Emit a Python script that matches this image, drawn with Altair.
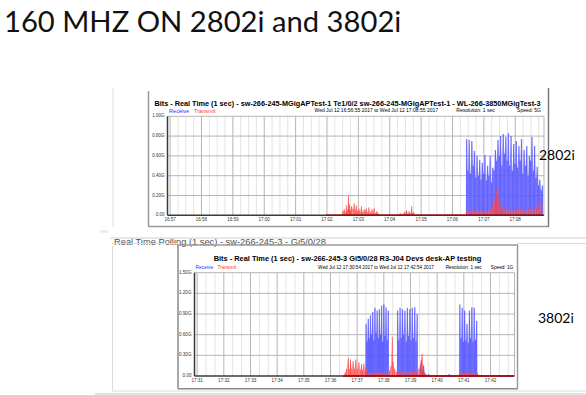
import altair as alt
import pandas as pd

# ---------------- data ----------------
SLIDE_TITLE = "160 MHZ ON 2802i and 3802i"
AP_LABELS = ["2802i", "3802i"]
HEADER_STRIP = "Real Time Polling (1 sec) - sw-266-245-3 - Gi5/0/28"
LEGEND = ["Receive", "Transmit"]

C1_TITLE = "Bits - Real Time (1 sec) - sw-266-245-MGigAPTest-1   Te1/0/2   sw-266-245-MGigAPTest-1 - WL-266-3850MGigTest-3"
C1_PERIOD = "Wed Jul 12 16:56:55 2017   to   Wed Jul 12 17:08:55 2017"
C1_RESOLUTION = "Resolution: 1 sec"
C1_SPEED = "Speed: 5G"
C1_RANGE = ["16:56:55", "17:08:55"]
C1_XTICKS = ["16:57", "16:58", "16:59", "17:00", "17:01", "17:02",
             "17:03", "17:04", "17:05", "17:06", "17:07", "17:08"]
C1_YTICKS = [0.0, 0.2, 0.4, 0.6, 0.8, 1.0]
C1_YLABELS = ["0.00", "0.20G", "0.40G", "0.60G", "0.80G", "1.00G"]
# receive bursts: (start, seconds between samples, values in Gbps)
C1_RX = [
    ("17:06:27", 2.5, [0.77, 0.45, 0.76, 0.42, 0.75, 0.50, 0.65, 0.38, 0.60, 0.40,
                       0.56, 0.36, 0.53, 0.42, 0.61, 0.35, 0.50, 0.40, 0.60, 0.33,
                       0.48, 0.45, 0.66, 0.55, 0.76, 0.60, 0.80, 0.50, 0.82, 0.62,
                       0.79, 0.55, 0.83, 0.50, 0.80, 0.45, 0.72, 0.52, 0.75, 0.48,
                       0.70, 0.55, 0.77, 0.42, 0.66, 0.50, 0.70, 0.40, 0.60, 0.55,
                       0.79, 0.45, 0.70, 0.38, 0.49, 0.30, 0.36, 0.25, 0.30]),
]
C1_TX = [
    ("17:01:58", 0.0), ("17:02:28", 0.0), ("17:02:30", 0.04), ("17:02:33", 0.06),
    ("17:02:36", 0.03), ("17:02:37", 0.10), ("17:02:39", 0.05), ("17:02:41", 0.20),
    ("17:02:42", 0.06), ("17:02:43", 0.11), ("17:02:45", 0.05), ("17:02:47", 0.09),
    ("17:02:50", 0.06), ("17:02:52", 0.12), ("17:02:54", 0.05), ("17:02:56", 0.10),
    ("17:02:58", 0.04), ("17:03:01", 0.07), ("17:03:03", 0.04), ("17:03:06", 0.09),
    ("17:03:08", 0.03), ("17:03:11", 0.06), ("17:03:13", 0.04), ("17:03:15", 0.07),
    ("17:03:18", 0.03), ("17:03:20", 0.08), ("17:03:23", 0.03), ("17:03:26", 0.06),
    ("17:03:28", 0.03), ("17:03:30", 0.07), ("17:03:33", 0.02), ("17:03:35", 0.04),
    ("17:03:38", 0.02), ("17:03:40", 0.0),
    ("17:04:16", 0.0), ("17:04:20", 0.02), ("17:04:24", 0.01), ("17:04:28", 0.03),
    ("17:04:32", 0.05), ("17:04:35", 0.02), ("17:04:37", 0.04), ("17:04:40", 0.02),
    ("17:04:42", 0.09), ("17:04:44", 0.02), ("17:04:46", 0.03), ("17:04:49", 0.0),
    ("17:06:25", 0.0), ("17:06:27", 0.03), ("17:06:32", 0.06), ("17:06:37", 0.03),
    ("17:06:42", 0.05), ("17:06:47", 0.04), ("17:06:52", 0.06), ("17:06:57", 0.03),
    ("17:07:02", 0.05), ("17:07:07", 0.04), ("17:07:12", 0.06), ("17:07:17", 0.09),
    ("17:07:21", 0.16), ("17:07:23", 0.22), ("17:07:25", 0.28), ("17:07:27", 0.20),
    ("17:07:30", 0.14), ("17:07:33", 0.10), ("17:07:36", 0.07), ("17:07:41", 0.05),
    ("17:07:46", 0.07), ("17:07:51", 0.04), ("17:07:56", 0.06), ("17:08:01", 0.04),
    ("17:08:06", 0.07), ("17:08:11", 0.05), ("17:08:16", 0.06), ("17:08:21", 0.04),
    ("17:08:26", 0.07), ("17:08:31", 0.05), ("17:08:36", 0.06), ("17:08:41", 0.08),
    ("17:08:46", 0.12), ("17:08:50", 0.18), ("17:08:53", 0.0),
]

C2_TITLE = "Bits - Real Time (1 sec) - sw-266-245-3   Gi5/0/28   R3-J04 Devs desk-AP testing"
C2_PERIOD = "Wed Jul 12 17:30:54 2017   to   Wed Jul 12 17:42:54 2017"
C2_RESOLUTION = "Resolution: 1 sec"
C2_SPEED = "Speed: 1G"
C2_RANGE = ["17:30:54", "17:42:54"]
C2_XTICKS = ["17:31", "17:32", "17:33", "17:34", "17:35", "17:36",
             "17:37", "17:38", "17:39", "17:40", "17:41", "17:42"]
C2_YTICKS = [0.0, 0.3, 0.6, 0.9, 1.2, 1.5]
C2_YLABELS = ["0.00", "0.30G", "0.60G", "0.90G", "1.20G", "1.50G"]
C2_RX = [
    ("17:37:20", 2.5, [0.76, 0.50, 0.83, 0.55, 0.88, 0.60, 0.93, 0.52, 0.99, 0.62,
                       0.95, 0.55, 0.97, 0.60, 1.02, 0.50, 1.04, 0.58, 1.00, 0.52, 0.95]),
    ("17:38:31", 2.75, [0.95, 0.52, 0.99, 0.55, 0.97, 0.60, 0.95, 0.50, 0.99, 0.58,
                        0.97, 0.52, 0.99, 0.55, 1.00, 0.50, 0.90]),
    ("17:39:22", 2.5, [0.12, 0.23, 0.08, 0.15, 0.04]),
    ("17:39:41", 2.5, [0.03]),
    ("17:40:27", 2.5, [0.03]),
    ("17:40:51", 2.7, [1.04, 0.55, 0.99, 0.50, 0.95, 0.52, 0.76, 0.48, 0.95, 0.55,
                       1.00, 0.50, 0.99, 0.52, 0.80]),
]
C2_TX = [
    ("17:36:28", 0.0), ("17:36:33", 0.05), ("17:36:36", 0.10), ("17:36:40", 0.26),
    ("17:36:42", 0.10), ("17:36:45", 0.24), ("17:36:48", 0.11), ("17:36:51", 0.22),
    ("17:36:54", 0.10), ("17:36:57", 0.24), ("17:37:00", 0.10), ("17:37:04", 0.20),
    ("17:37:07", 0.09), ("17:37:10", 0.17), ("17:37:12", 0.08), ("17:37:15", 0.18),
    ("17:37:18", 0.07), ("17:37:20", 0.13), ("17:37:23", 0.05), ("17:37:28", 0.04),
    ("17:37:33", 0.06), ("17:37:38", 0.03), ("17:37:43", 0.05), ("17:37:48", 0.04),
    ("17:37:53", 0.06), ("17:37:58", 0.03), ("17:38:03", 0.05), ("17:38:08", 0.04),
    ("17:38:13", 0.08), ("17:38:16", 0.15), ("17:38:19", 0.57), ("17:38:21", 0.20),
    ("17:38:24", 0.10), ("17:38:29", 0.06), ("17:38:34", 0.04), ("17:38:39", 0.07),
    ("17:38:44", 0.05), ("17:38:49", 0.06), ("17:38:54", 0.04), ("17:38:59", 0.07),
    ("17:39:04", 0.05), ("17:39:09", 0.06), ("17:39:14", 0.04), ("17:39:19", 0.10),
    ("17:39:23", 0.18), ("17:39:26", 0.32), ("17:39:29", 0.15), ("17:39:32", 0.05),
    ("17:39:36", 0.02), ("17:39:40", 0.0),
    ("17:40:47", 0.0), ("17:40:51", 0.04), ("17:40:56", 0.06), ("17:41:01", 0.03),
    ("17:41:06", 0.05), ("17:41:11", 0.04), ("17:41:16", 0.06), ("17:41:21", 0.03),
    ("17:41:26", 0.05), ("17:41:31", 0.04), ("17:41:35", 0.0), ("17:42:53", 0.0),
]

# ---------------- helpers ----------------
SANS = "Liberation Sans"
ONE = pd.DataFrame({"k": [0]})


def sec(hms):
    parts = [int(p) for p in hms.split(":")]
    while len(parts) < 3:
        parts.append(0)
    return parts[0] * 3600 + parts[1] * 60 + parts[2]


def text(s, x, y, size, color="#000000", weight="normal", font=SANS,
         align="left", baseline="alphabetic"):
    return alt.Chart(pd.DataFrame({"s": [s]})).mark_text(
        align=align, baseline=baseline, fontSize=size, fontWeight=weight,
        font=font, color=color
    ).encode(x=alt.value(x), y=alt.value(y), text="s:N")


def line(x1, y1, x2, y2, color, w=1.0):
    return alt.Chart(ONE).mark_rule(color=color, strokeWidth=w).encode(
        x=alt.value(x1), x2=alt.value(x2), y=alt.value(y1), y2=alt.value(y2))


def box(x1, y1, x2, y2, color):
    return alt.Chart(ONE).mark_rect(color=color).encode(
        x=alt.value(x1), x2=alt.value(x2), y=alt.value(y1), y2=alt.value(y2))


def panel(rng, xticks, yticks, ylabels, rx, tx, xr, yr, minor, fs):
    t0, t1 = sec(rng[0]), sec(rng[1])
    ymax = yticks[-1]
    xs = alt.Scale(domain=[t0, t1], range=list(xr), nice=False, zero=False)
    ys = alt.Scale(domain=[0, ymax], range=list(yr), nice=False, zero=False)
    X = lambda f: alt.X(f, scale=xs, axis=None)
    Y = lambda f: alt.Y(f, scale=ys, axis=None)

    major = [sec(t) for t in xticks]
    first = ((t0 + minor - 1) // minor) * minor
    minors = [t for t in range(first, t1 + 1, minor) if t not in major]

    vmin = pd.DataFrame({"t": minors, "lo": 0.0, "hi": ymax})
    vmaj = pd.DataFrame({"t": major + [t1], "lo": 0.0, "hi": ymax})
    hgrid = pd.DataFrame({"v": yticks[1:], "a": t0, "b": t1})
    xlab = pd.DataFrame({"t": major, "s": xticks, "lo": 0.0})
    ylab = pd.DataFrame({"v": yticks, "s": ylabels, "a": t0})

    rows = []
    for start, step, vals in rx:
        s0 = sec(start)
        rows.append((s0 - 1.5, 0.0))
        for i, v in enumerate(vals):
            rows.append((s0 + i * step, v))
        rows.append((s0 + (len(vals) - 1) * step + 1.5, 0.0))
    rxd = pd.DataFrame(rows, columns=["t", "v"])
    rxd["lo"] = 0.0
    txd = pd.DataFrame([(sec(t), v) for t, v in tx], columns=["t", "v"])
    txd["lo"] = 0.0
    txspan = pd.DataFrame({"a": [txd["t"].min()], "b": [txd["t"].max()], "lo": [0.0]})

    axis_df = pd.DataFrame({"a": [t0], "b": [t1], "lo": [0.0], "hi": [ymax]})

    layers = [
        alt.Chart(vmin).mark_rule(color="#e3e3e3", strokeWidth=1).encode(
            x=X("t:Q"), y=Y("lo:Q"), y2="hi:Q"),
        alt.Chart(vmaj).mark_rule(color="#b5b5b5", strokeWidth=1).encode(
            x=X("t:Q"), y=Y("lo:Q"), y2="hi:Q"),
        alt.Chart(hgrid).mark_rule(color="#b5b5b5", strokeWidth=1).encode(
            x=X("a:Q"), x2="b:Q", y=Y("v:Q")),
        alt.Chart(rxd).mark_area(color="#a0a0ff", opacity=0.7).encode(
            x=X("t:Q"), y=Y("v:Q"), y2="lo:Q"),
        alt.Chart(rxd).mark_rule(color="#4040ff", strokeWidth=1.3, opacity=0.7).encode(
            x=X("t:Q"), y=Y("v:Q"), y2="lo:Q"),
        alt.Chart(txd).mark_area(color="#ff6a6a", opacity=0.5).encode(
            x=X("t:Q"), y=Y("v:Q"), y2="lo:Q"),
        alt.Chart(txd).mark_rule(color="#ff3030", strokeWidth=1, opacity=0.7).encode(
            x=X("t:Q"), y=Y("v:Q"), y2="lo:Q"),
        alt.Chart(axis_df).mark_rule(color="#3a3a3a", strokeWidth=1.5).encode(
            x=X("a:Q"), y=Y("lo:Q"), y2="hi:Q"),
        alt.Chart(axis_df).mark_rule(color="#3a3a3a", strokeWidth=1.5).encode(
            x=X("a:Q"), x2="b:Q", y=Y("lo:Q")),
        alt.Chart(txspan).mark_rule(color="#b00000", strokeWidth=1.5).encode(
            x=X("a:Q"), x2="b:Q", y=Y("lo:Q")),
        alt.Chart(xlab).mark_text(fontSize=fs, font=SANS, color="#333333",
                                  baseline="top", dy=1.5).encode(
            x=X("t:Q"), y=Y("lo:Q"), text="s:N"),
        alt.Chart(ylab).mark_text(fontSize=fs, font=SANS, color="#333333",
                                  align="right", baseline="middle", dx=-3).encode(
            x=X("a:Q"), y=Y("v:Q"), text="s:N"),
    ]
    return layers


# ---------------- layout ----------------
layers = []

# frames / slide decorations
layers += [
    line(113, 88, 113, 227, "#dedede", 1),
    line(148.5, 91, 148.5, 227, "#9a9a9a", 1.5),
    line(148, 226.5, 549, 226.5, "#9a9a9a", 1.5),
    line(548.5, 88, 548.5, 227, "#7a7a7a", 1.5),
    line(100, 231.5, 586, 231.5, "#e8e8e8", 2),
    text(HEADER_STRIP, 114, 245, 9.3, color="#505050"),
    box(108, 228.5, 586, 238.5, "#ffffff"),
    line(110, 238, 586, 238, "#d0d0d0", 1),
    line(112, 243.5, 178, 243.5, "#dcdcdc", 1),
    line(517, 243.5, 586, 243.5, "#dcdcdc", 1),
    line(112.5, 246, 112.5, 391, "#dcdcdc", 1),
    line(112, 391, 586, 391, "#dcdcdc", 1),
    line(95, 394, 586, 394, "#e4e4e4", 2),
    line(178, 245, 518, 245, "#9a9a9a", 1.5),
    line(178, 245, 178, 389, "#8a8a8a", 1.5),
    line(178, 388.8, 518, 388.8, "#8a8a8a", 1.5),
    line(517.5, 245, 517.5, 389, "#9a9a9a", 1.5),
]

# chart 1
layers += panel(C1_RANGE, C1_XTICKS, C1_YTICKS, C1_YLABELS, C1_RX, C1_TX,
                (167.5, 544), (215.3, 116.3), 15, 4.5)
layers += [
    text(C1_TITLE, 347.5, 106, 7.3, weight="bold", align="center"),
    text(LEGEND[0], 169, 112.5, 5.6, color="#3333ff"),
    text(LEGEND[1], 194, 112.5, 5.6, color="#ff3333"),
    text(C1_PERIOD, 376.3, 112.3, 5.0, align="center"),
    text(C1_RESOLUTION, 475.5, 112.3, 5.0, align="center"),
    text(C1_SPEED, 529, 112.3, 5.0, align="center"),
]

# chart 2
layers += panel(C2_RANGE, C2_XTICKS, C2_YTICKS, C2_YLABELS, C2_RX, C2_TX,
                (194.5, 514.5), (376, 272.7), 20, 4.6)
layers += [
    text(C2_TITLE, 347.5, 261, 7.4, weight="bold", align="center"),
    text(LEGEND[0], 195.5, 269, 4.9, color="#3333ff"),
    text(LEGEND[1], 217.5, 269, 4.9, color="#ff3333"),
    text(C2_PERIOD, 376, 269, 4.7, align="center"),
    text(C2_RESOLUTION, 463.7, 269, 4.7, align="center"),
    text(C2_SPEED, 502, 269, 4.7, align="center"),
]

# slide texts
layers += [
    text(SLIDE_TITLE, 4, 32, 29.2, font="Lato", color="#111111"),
    text(AP_LABELS[0], 539, 160, 14, font="Lato"),
    text(AP_LABELS[1], 538, 323, 14, font="Lato"),
]

chart = alt.layer(*layers).resolve_scale(
    x="independent", y="independent"
).properties(
    width=586, height=395, padding=0,
    autosize=alt.AutoSizeParams(type="none"),
    background="#ffffff",
).configure_view(stroke=None)

chart.save("out.html", embed_options={"renderer": "svg", "actions": False})
